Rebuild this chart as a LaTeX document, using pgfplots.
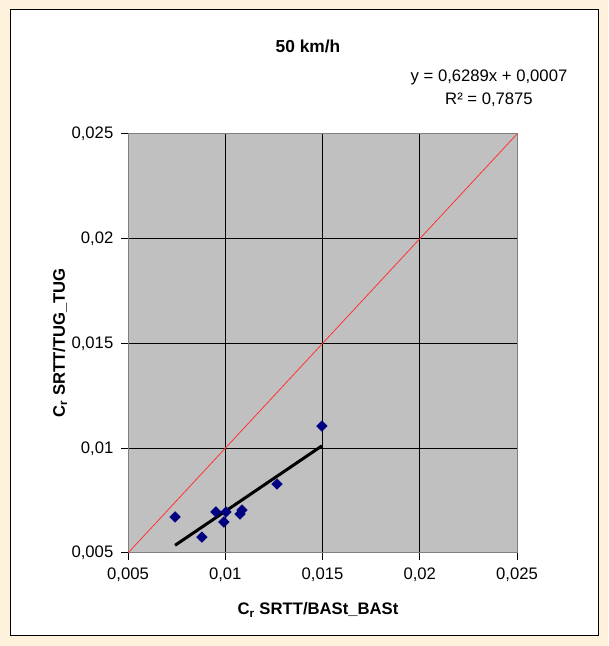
\documentclass[border=0pt]{standalone}
\usepackage{pgfplots}
\pgfplotsset{compat=1.18}
\usepackage{fontspec}
\setmainfont{Liberation Sans}
\definecolor{bgy}{RGB}{255,242,220}
\definecolor{plotgray}{RGB}{192,192,192}
\definecolor{navyb}{RGB}{0,0,128}
\definecolor{axgray}{RGB}{128,128,128}
\newcommand{\tfont}{\fontsize{12.5}{14}\selectfont}
\begin{document}
\begin{tikzpicture}[x=0.75pt,y=0.75pt]
\fill[bgy] (0,0) rectangle (608,646);
\filldraw[fill=white,draw=black,line width=0.75pt] (10,10) rectangle (598,636);
\begin{axis}[
  at={(96pt,69.75pt)}, anchor=south west,
  scale only axis, width=291.75pt, height=314.25pt,
  xmin=0.005, xmax=0.025, ymin=0.005, ymax=0.025,
  xtick={0.005,0.01,0.015,0.02,0.025},
  ytick={0.005,0.01,0.015,0.02,0.025},
  xticklabels={{0,005},{0,01},{0,015},{0,02},{0,025}},
  yticklabels={{0,005},{0,01},{0,015},{0,02},{0,025}},
  scaled ticks=false,
  grid=major, major grid style={black, line width=0.75pt},
  axis background/.style={fill=plotgray},
  axis line style={draw=axgray, line width=0.75pt},
  tick align=outside, major tick length=5pt,
  tick style={black, line width=0.75pt},
  xtick pos=left, ytick pos=left,
  ticklabel style={font=\tfont},
  xticklabel style={yshift=-2.5pt},
  yticklabel style={xshift=-2.5pt},
]
\addplot[red!80!white, line width=0.6pt] coordinates {(0.005,0.005) (0.025,0.025)};
\addplot[black, line width=2.25pt] coordinates {(0.00742,0.005367) (0.01497,0.010115)};
\addplot[only marks, mark=square*, mark size=2.8pt, mark options={rotate=45, fill=navyb, draw=navyb}] coordinates {
(0.00742,0.00672)
(0.00880,0.00576)
(0.00952,0.00696)
(0.00993,0.00648)
(0.01004,0.00696)
(0.01076,0.00686)
(0.01086,0.00705)
(0.01266,0.00829)
(0.01497,0.01106)
};
\end{axis}
\node[font=\fontsize{13}{15}\selectfont\bfseries] at (308,600) {50 km/h};
\node[font=\tfont] at (489,569) {y = 0,6289x + 0,0007};
\node[font=\tfont] at (489,546) {R² = 0,7875};
\node[font=\fontsize{12.5}{14}\selectfont\bfseries] at (318,36) {C\textsubscript{r} SRTT/BASt\_BASt};
\node[font=\fontsize{12.5}{14}\selectfont\bfseries, rotate=90] at (60,303) {C\textsubscript{r} SRTT/TUG\_TUG};
\end{tikzpicture}
\end{document}
